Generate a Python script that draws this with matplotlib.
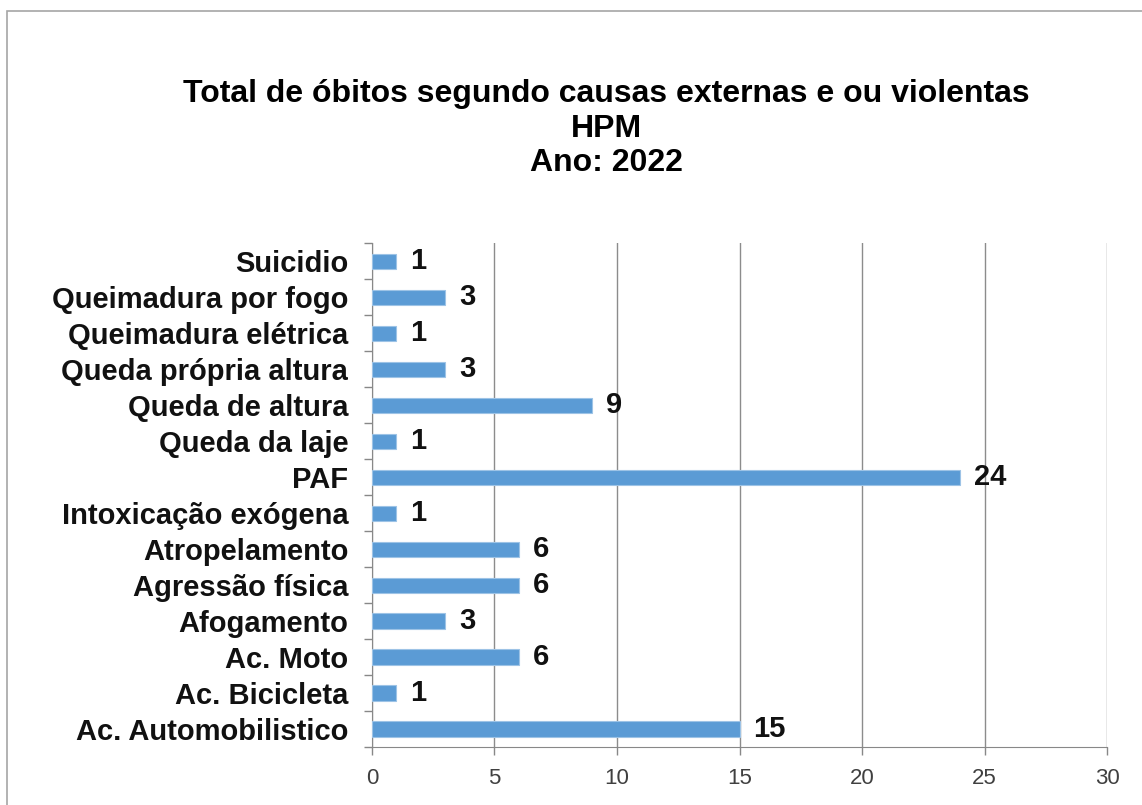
import matplotlib.pyplot as plt
from matplotlib.patches import Rectangle

plt.rcParams['font.family'] = ['Liberation Sans', 'DejaVu Sans']

# dados
causas = ['Ac. Automobilistico', 'Ac. Bicicleta', 'Ac. Moto', 'Afogamento',
          'Agressão física', 'Atropelamento', 'Intoxicação exógena', 'PAF',
          'Queda da laje', 'Queda de altura', 'Queda própria altura',
          'Queimadura elétrica', 'Queimadura por fogo', 'Suicidio']
obitos = [15, 1, 6, 3, 6, 6, 1, 24, 1, 9, 3, 1, 3, 1]
xticks = [0, 5, 10, 15, 20, 25, 30]

fig = plt.figure(figsize=(11.42, 8.05), dpi=100)
ax = fig.add_axes([0.3257, 0.072, 0.6437, 0.626])

pos = range(len(causas))
ax.barh(pos, obitos, height=0.42, color='#5b9bd5', edgecolor='#9dc3e6',
        linewidth=0.8, zorder=3)
for i, v in enumerate(obitos):
    ax.text(v + 0.55, i, str(v), va='center', ha='left', fontsize=21,
            fontweight='bold', color='#111111')

ax.set_xlim(0, 30)
ax.set_ylim(-0.5, len(causas) - 0.5)
ax.set_xticks(xticks)
ax.set_xticklabels([str(t) for t in xticks], fontsize=16, color='#404040')
ax.set_yticks(pos)
ax.set_yticklabels(causas, fontsize=21, fontweight='bold', color='#111111')
ax.tick_params(axis='y', length=0, pad=17)
ax.tick_params(axis='x', length=6, width=1, color='#888888', pad=9)
ax.set_yticks([i - 0.5 for i in range(len(causas) + 1)], minor=True)
ax.tick_params(axis='y', which='minor', length=6, width=1, color='#888888')
ax.grid(axis='x', color='#8c8c8c', linewidth=1, zorder=0)
for s in ['top', 'right']:
    ax.spines[s].set_visible(False)
ax.spines['left'].set_color('#888888')
ax.spines['bottom'].set_color('#888888')

fig.text(0.531, 0.883, 'Total de óbitos segundo causas externas e ou violentas',
         ha='center', va='center', fontsize=23, fontweight='bold')
fig.text(0.531, 0.840, 'HPM', ha='center', va='center', fontsize=23,
         fontweight='bold')
fig.text(0.531, 0.798, 'Ano: 2022', ha='center', va='center', fontsize=23,
         fontweight='bold')

# borda do gráfico
fig.add_artist(Rectangle((7 / 1142, -0.05), 1.2, (805 - 11) / 805 + 0.05,
                         transform=fig.transFigure, fill=False,
                         edgecolor='#a6a6a6', linewidth=1.2))

plt.savefig('out.png', dpi=100)
